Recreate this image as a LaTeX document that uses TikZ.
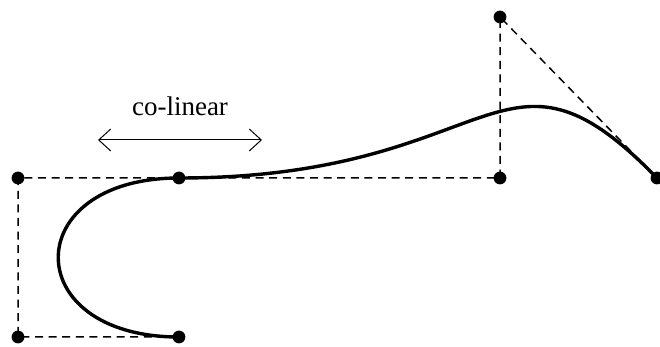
\documentclass[tikz,border=0pt]{standalone}
\usepackage{fontspec}
\setmainfont{Liberation Serif}
\usetikzlibrary{arrows.meta}

\begin{document}
\begin{tikzpicture}[x=0.5pt, y=-0.5pt,
            ctrl/.style={line width=0.75pt, dash pattern=on 4pt off 2.8pt},
            curve/.style={line width=1.7pt, line cap=round},
            dot/.style={fill=black},
            colinear/.style={{Straight Barb[length=6pt, width=11pt]}-{Straight Barb[length=6pt, width=11pt]}, line width=0.5pt},
            lbl/.style={font=\fontsize{13.5}{16}\selectfont}
        ]
            \useasboundingbox (0,0) rectangle (660,347);

            % Control points
            \coordinate (start) at (179,337);
            \coordinate (cornerbl) at (18,337);
            \coordinate (cornertl) at (18,178);
            \coordinate (joint) at (179,178);
            \coordinate (ctrlmid) at (500,178);
            \coordinate (ctrltop) at (500,17);
            \coordinate (finish) at (657,178);

            % Control polygon
            \draw[ctrl] (start) -- (cornerbl) -- (cornertl) -- (ctrlmid) -- (ctrltop) -- (finish);

            % Curve
            \draw[curve] (start) .. controls (cornerbl) and (cornertl) .. (joint)
                .. controls (ctrlmid) and (ctrltop) .. (finish);

            % Dots
            \foreach \p in {start, cornerbl, cornertl, joint, ctrlmid, ctrltop, finish}
                \fill[dot] (\p) circle (3.2pt);

            % Co-linear marker
            \coordinate (colleft) at (98,140);
            \coordinate (colright) at (262,140);
            \draw[colinear] (colleft) -- (colright);
            \node[lbl] (collabel) at (180,106) {co-linear};
        \end{tikzpicture}
\end{document}
